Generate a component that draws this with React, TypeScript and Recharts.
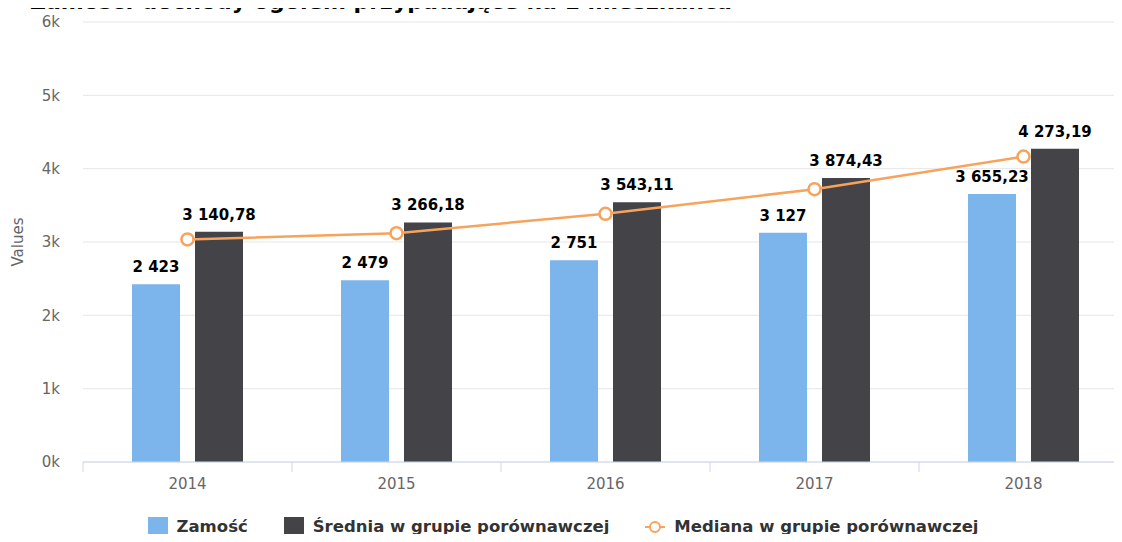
import {
  ComposedChart, Bar, Line, XAxis, YAxis, CartesianGrid, Legend, LabelList
} from 'recharts'

const years = ['2014', '2015', '2016', '2017', '2018']
const zamosc = [2423, 2479, 2751, 3127, 3655.23]
const srednia = [3140.78, 3266.18, 3543.11, 3874.43, 4273.19]
const mediana = [3035, 3120, 3385, 3720, 4165]
const yTicks = [0, 1000, 2000, 3000, 4000, 5000, 6000]

const data = years.map((year, i) => ({
  year,
  zamosc: zamosc[i],
  srednia: srednia[i],
  mediana: mediana[i],
}))

const FONT = '"DejaVu Sans", sans-serif'
const AXIS = '#ccd6eb'

// 3 140,78 / 2 423 (non-breaking space so the label stays on one line)
const formatPl = (v: any) => {
  const n = Number(v)
  const [i, d] = n.toFixed(2).split('.')
  const int = i.replace(/\B(?=(\d{3})+(?!\d))/g, '\u00A0')
  return Number.isInteger(n) ? int : `${int},${d}`
}

// category label in the middle, tick marks on the category borders
const YearTick = (props: any) => {
  const { x, y, payload, index, visibleTicksCount } = props
  const half = payload.offset ?? 0
  const last = index === visibleTicksCount - 1
  return (
    <g>
      <line x1={x - half} y1={y} x2={x - half} y2={y + 10} stroke={AXIS} />
      {last && <line x1={x + half} y1={y} x2={x + half} y2={y + 10} stroke={AXIS} />}
      <text x={x} y={y + 22} textAnchor="middle" dominantBaseline="central" fontSize={15} fill="#666666" fontFamily={FONT}>
        {payload.value}
      </text>
    </g>
  )
}

const legendItems = [
  { name: 'Zamość', color: '#7cb5ec', type: 'square' },
  { name: 'Średnia w grupie porównawczej', color: '#434348', type: 'square' },
  { name: 'Mediana w grupie porównawczej', color: '#f7a35c', type: 'line' },
]

const ChartLegend = () => (
  <div
    style={{
      height: 50,
      boxSizing: 'border-box',
      paddingTop: 25,
      paddingLeft: 4,
      display: 'flex',
      justifyContent: 'center',
      gap: 36,
      fontFamily: FONT,
      fontWeight: 'bold',
      fontSize: 16.5,
      lineHeight: '20px',
      color: '#333333',
    }}
  >
    {legendItems.map((it) => (
      <div key={it.name} style={{ display: 'flex', alignItems: 'center', gap: 9, height: 20 }}>
        {it.type === 'square' ? (
          <span style={{ width: 20, height: 20, background: it.color, display: 'inline-block' }} />
        ) : (
          <svg width={20} height={14}>
            <line x1={0} y1={7} x2={20} y2={7} stroke={it.color} strokeWidth={2} />
            <circle cx={10} cy={7} r={5} fill="#fff" stroke={it.color} strokeWidth={2} />
          </svg>
        )}
        <span>{it.name}</span>
      </div>
    ))}
  </div>
)

const labelStyle = { fontSize: 15, fontWeight: 'bold', fill: '#000', fontFamily: FONT }

export default function App() {
  return (
    <div style={{ position: 'relative', margin: -8, width: 1122, height: 542, overflow: 'hidden', background: '#fff' }}>
      <div
        style={{
          position: 'absolute', top: -9, left: 30, whiteSpace: 'nowrap',
          fontFamily: FONT, fontWeight: 'bold', fontSize: 22, lineHeight: '22px', color: '#000',
        }}
      >
        Zamość: dochody ogółem przypadające na 1 mieszkańca
      </div>
      <div style={{ position: 'absolute', top: 0, left: 0 }}>
        <ComposedChart
          width={1136}
          height={542}
          data={data}
          margin={{ top: 22, right: 8, bottom: 0, left: 0 }}
          barSize={48}
          barGap={15}
        >
          <CartesianGrid stroke="#e6e6e6" vertical={false} />
          <XAxis
            dataKey="year"
            height={30}
            axisLine={{ stroke: AXIS }}
            tickLine={false}
            tickSize={0}
            tickMargin={0}
            tick={<YearTick />}
          />
          <YAxis
            width={83}
            domain={[0, 6000]}
            ticks={yTicks}
            axisLine={false}
            tickLine={false}
            tickMargin={17}
            tick={{ fontSize: 15, fill: '#666666', fontFamily: FONT }}
            tickFormatter={(v) => `${v / 1000}k`}
            label={{
              value: 'Values',
              angle: -90,
              position: 'insideLeft',
              offset: 18,
              style: { textAnchor: 'middle', fontSize: 15, fill: '#666666', fontFamily: FONT },
            }}
          />
          <Legend verticalAlign="bottom" content={<ChartLegend />} wrapperStyle={{ left: 0, width: 1122 }} />
          <Bar dataKey="zamosc" name="Zamość" fill="#7cb5ec" isAnimationActive={false}>
            <LabelList dataKey="zamosc" position="top" offset={12} formatter={formatPl} style={labelStyle} />
          </Bar>
          <Bar dataKey="srednia" name="Średnia w grupie porównawczej" fill="#434348" isAnimationActive={false}>
            <LabelList dataKey="srednia" position="top" offset={12} formatter={formatPl} style={labelStyle} />
          </Bar>
          <Line
            type="linear"
            dataKey="mediana"
            name="Mediana w grupie porównawczej"
            stroke="#f7a35c"
            strokeWidth={2.5}
            dot={{ r: 6, fill: '#fff', stroke: '#f7a35c', strokeWidth: 2.5 }}
            isAnimationActive={false}
          />
        </ComposedChart>
      </div>
    </div>
  )
}
